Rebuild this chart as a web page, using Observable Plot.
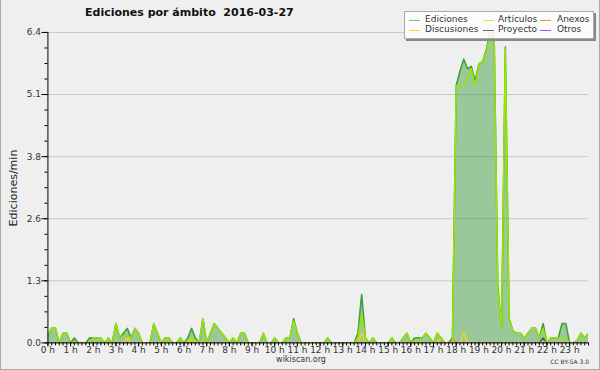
<!DOCTYPE html>
<html>
<head>
<meta charset="utf-8">
<script src="https://cdn.jsdelivr.net/npm/d3@7"></script>
<script src="https://cdn.jsdelivr.net/npm/@observablehq/plot@0.6"></script>
<style>
  html, body { margin: 0; padding: 0; background: #efefef; }
  #wrap { position: relative; width: 598px; height: 369px; background: #efefef;
          border-left: 1px solid #aaa; border-right: 1px solid #aaa; border-bottom: 1px solid #aaa;
          font-family: "DejaVu Sans", sans-serif; overflow: hidden; }
  #chart { position: absolute; left: -1px; top: 0; }
  .abs { position: absolute; white-space: pre; }
  #title { left: 84px; top: 6px; font-size: 11px; font-weight: bold; color: #111; }
  #ylab { left: 12px; top: 188px; font-size: 11px; color: #222; transform: translate(-50%, -50%) rotate(-90deg); }
  #site { left: 300px; top: 355px; font-size: 8px; color: #333; transform: translateX(-50%); }
  #cc { right: 10px; top: 358px; font-size: 6px; color: #333; }
  #legend { left: 403px; top: 11px; width: 188px; height: 26px; background: rgba(255,255,255,0.82);
            border: 1px solid #aaa; box-shadow: 2px 2px 0 #888; }
  .li { position: absolute; font-size: 9px; color: #333; line-height: 10px; white-space: pre; }
  .sw { position: absolute; width: 11px; height: 0; border-top: 1px solid; }
</style>
</head>
<body>
<div id="wrap">
  <div id="chart"></div>
  <div class="abs" id="title"></div>
  <div class="abs" id="ylab"></div>
  <div class="abs" id="site"></div>
  <div class="abs" id="cc"></div>
  <div class="abs" id="legend"></div>
</div>
<script>
// ---- data (10-minute bins, 0:00 .. 23:50) ----
const titleText = "Ediciones por ámbito  2016-03-27";
const yLabel = "Ediciones/min";
const siteText = "wikiscan.org";
const licenseText = "CC BY-SA 3.0";

const seriesNames = ["Ediciones", "Artículos", "Anexos", "Discusiones", "Proyecto", "Otros"];
const seriesColors = ["#3d9e3d", "#99e600", "#ff7f3f", "#ffcc22", "#555555", "#9933ff"];
const legendColors = ["#77c877", "#c8f040", "#ff8a50", "#ffd040", "#666666", "#a050ff"];

const hourLabels = ["0 h","1 h","2 h","3 h","4 h","5 h","6 h","7 h","8 h","9 h","10 h","11 h",
  "12 h","13 h","14 h","15 h","16 h","17 h","18 h","19 h","20 h","21 h","22 h","23 h"];
const yTickValues = [0, 1.28, 2.56, 3.84, 5.12, 6.4];

const ediciones = [
  0.15,0.3,0.3,0,0.2,0.2, 0,0.1,0,0,0,0.1, 0.1,0.1,0.1,0,0.1,0, 0.4,0.1,0.2,0.3,0.1,0.3,
  0.2,0,0,0,0.4,0.2, 0,0.1,0.1,0,0,0.1, 0,0.1,0.3,0.1,0,0.5, 0,0.2,0.4,0.3,0.2,0.1,
  0,0.1,0,0.2,0.2,0, 0,0,0,0.2,0,0, 0.1,0,0,0.1,0.1,0.5, 0.2,0,0,0,0,0,
  0,0,0.1,0,0,0, 0,0,0,0,0.2,1.0, 0.1,0,0.1,0,0,0, 0,0.1,0,0,0.1,0.2,
  0,0.1,0.1,0.1,0.2,0.1, 0,0.2,0.1,0,0,0.1, 5.3,5.6,5.85,5.65,5.7,5.4, 5.75,5.8,6.05,6.45,6.6,1.2,
  0.3,6.1,0.5,0.25,0.2,0.2, 0.1,0.2,0.3,0.3,0.1,0.4, 0,0.1,0.1,0.1,0.4,0.4, 0,0,0.05,0.2,0.1,0.2
];
const articulos = [
  0.15,0.3,0.3,0,0.2,0.2, 0,0,0,0,0,0, 0.1,0.1,0.1,0,0.1,0, 0.4,0.1,0.15,0.15,0.1,0.3,
  0.2,0,0,0,0.4,0.2, 0,0.1,0.1,0,0,0.1, 0,0.05,0.1,0.05,0,0.5, 0,0.2,0.4,0.3,0.2,0.1,
  0,0.1,0,0.2,0.2,0, 0,0,0,0.2,0,0, 0.1,0,0,0.1,0.1,0.45, 0.2,0,0,0,0,0,
  0,0,0.1,0,0,0, 0,0,0,0,0.1,0.6, 0.1,0,0.1,0,0,0, 0,0.1,0,0,0.1,0.2,
  0,0.05,0.05,0.1,0.2,0.1, 0,0.2,0.1,0,0,0, 5.3,5.3,5.3,5.45,5.65,5.3, 5.75,5.8,6.0,6.4,6.5,1.1,
  0.3,6.05,0.45,0.25,0.2,0.2, 0.1,0.2,0.3,0.3,0.1,0.3, 0,0.1,0.1,0.1,0.1,0.1, 0,0,0.05,0.2,0.1,0.2
];
const anexos = [
  0,0,0,0,0,0, 0,0,0,0,0,0, 0,0,0,0,0,0, 0,0,0,0,0,0,
  0,0,0,0,0,0, 0,0,0,0,0,0, 0,0,0,0,0,0, 0,0,0,0,0,0,
  0,0,0,0,0,0, 0,0,0,0,0,0, 0,0,0,0,0,0, 0,0,0,0,0,0,
  0,0,0,0,0,0, 0,0,0,0,0,0, 0,0,0,0,0,0, 0,0,0,0,0,0,
  0,0,0,0,0,0, 0,0,0,0,0,0.1, 0,0,0,0,0,0, 0,0,0,0,0,0,
  0,0,0,0,0,0, 0,0,0,0,0,0, 0,0,0,0,0,0, 0,0,0,0,0,0
];
const discusiones = [
  0,0,0,0,0,0, 0,0,0,0,0,0, 0,0,0,0,0,0, 0,0,0,0.1,0,0,
  0,0,0,0,0,0, 0,0,0,0,0,0, 0,0,0.1,0,0,0, 0,0,0,0,0,0,
  0,0,0,0,0,0, 0,0,0,0,0,0, 0,0,0,0,0,0, 0,0,0,0,0,0,
  0,0,0,0,0,0, 0,0,0,0,0,0.2, 0,0,0,0,0,0, 0,0,0,0,0,0,
  0,0,0,0,0,0, 0,0,0.1,0,0,0, 0,0,0.2,0,0,0, 0,0,0,0,0,0,
  0,0,0,0,0,0, 0,0,0,0,0,0, 0,0,0,0,0,0, 0,0,0,0,0,0
];
const proyecto = [
  0,0,0,0,0,0, 0,0,0,0,0,0, 0,0,0,0,0,0, 0,0,0,0,0,0,
  0,0,0,0,0,0, 0,0,0,0,0,0, 0,0,0,0,0,0, 0,0,0,0,0,0,
  0,0,0,0,0,0, 0,0,0,0,0,0, 0,0,0,0,0,0, 0,0,0,0,0,0,
  0,0,0,0,0,0, 0,0,0,0,0,0, 0,0,0,0,0,0, 0,0,0,0,0,0,
  0,0,0,0,0,0, 0,0,0,0,0,0, 0,0,0,0,0,0, 0,0,0,0,0,0,
  0,0,0,0,0,0, 0,0,0,0,0,0.1, 0,0,0,0,0,0, 0,0,0,0,0,0
];
const otros = new Array(144).fill(0);

// ---- build table ----
const rows = ediciones.map((v, i) => ({
  t: i / 6, ed: v, art: articulos[i], anx: anexos[i], dis: discusiones[i], pro: proyecto[i], otr: otros[i]
}));
const hourTicks = hourLabels.map((_, i) => i);
const minorX = d3.range(0, 144).map(i => i / 6);
const yMinor = d3.range(0, 21).map(i => i * 0.32);

const line = (key, color) => Plot.lineY(rows, {x: "t", y: key, stroke: color, strokeWidth: 1.5, clip: true});

const plot = Plot.plot({
  width: 600, height: 370,
  marginLeft: 47.5, marginRight: 11, marginTop: 32, marginBottom: 27,
  style: {background: "transparent", fontFamily: "DejaVu Sans, sans-serif", color: "black", overflow: "visible"},
  x: {domain: [0, 143 / 6]},
  y: {domain: [0, 6.4]},
  marks: [
    Plot.gridY(yTickValues.slice(1), {stroke: "#c8c8c8", strokeOpacity: 1}),
    Plot.areaY(rows, {x: "t", y: "ed", fill: "#339933", fillOpacity: 0.45, clip: true}),
    line("otr", seriesColors[5]),
    line("pro", seriesColors[4]),
    line("anx", seriesColors[2]),
    line("dis", seriesColors[3]),
    line("ed", seriesColors[0]),
    line("art", seriesColors[1]),
    Plot.axisY({ticks: yMinor, tickSize: 3, tickFormat: () => "", label: null}),
    Plot.axisY({ticks: yTickValues, tickSize: 6, tickPadding: 1, tickFormat: d => d.toFixed(1),
      fontSize: 9, fill: "#333", label: null}),
    Plot.axisX({ticks: minorX, tickSize: 3, tickFormat: () => "", label: null}),
    Plot.axisX({ticks: hourTicks, tickSize: 4, tickPadding: 0, tickFormat: d => hourLabels[d],
      fontSize: 9, fill: "#333", label: null}),
    Plot.ruleY([0], {stroke: "black"}),
    Plot.ruleX([0], {stroke: "black"})
  ]
});
document.getElementById("chart").appendChild(plot);

document.getElementById("title").textContent = titleText;
document.getElementById("ylab").textContent = yLabel;
document.getElementById("site").textContent = siteText;
document.getElementById("cc").textContent = licenseText;

// legend: 3 columns x 2 rows
const legend = document.getElementById("legend");
const order = [0, 1, 2, 3, 4, 5];
const colX = [4, 78, 135];      // swatch left
const textX = [20, 93, 152];    // text left
const rowY = [8, 18];
order.forEach((k, j) => {
  const c = j % 3, r = Math.floor(j / 3);
  const sw = document.createElement("div");
  sw.className = "sw";
  sw.style.left = colX[c] + "px";
  sw.style.top = rowY[r] + "px";
  sw.style.borderTopColor = legendColors[k];
  legend.appendChild(sw);
  const tx = document.createElement("div");
  tx.className = "li";
  tx.style.left = textX[c] + "px";
  tx.style.top = (rowY[r] - 6) + "px";
  tx.textContent = seriesNames[k];
  legend.appendChild(tx);
});
</script>
</body>
</html>
